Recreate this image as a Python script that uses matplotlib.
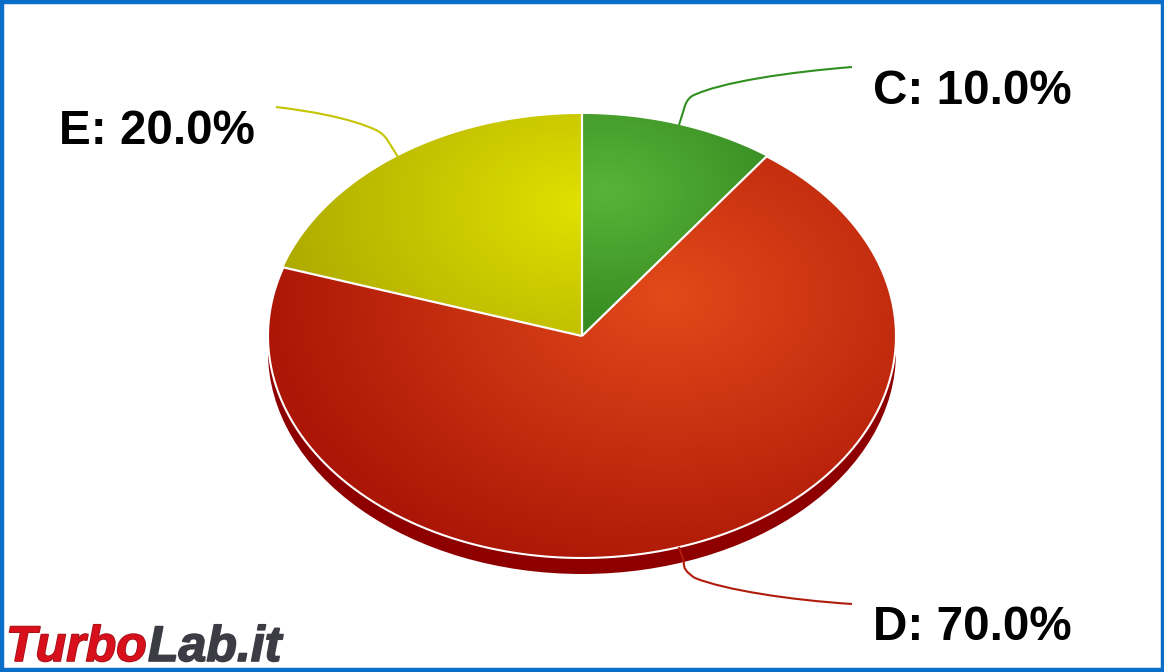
"""Pie chart with a fake 3D look, drawn in pixel coordinates of the original image."""
import matplotlib
matplotlib.use("Agg")
import matplotlib.patheffects as pe
import matplotlib.pyplot as plt
import numpy as np
from matplotlib.colors import LinearSegmentedColormap
from matplotlib.patches import Ellipse, PathPatch, Rectangle
from matplotlib.path import Path

categories = ["C", "D", "E"]
shares = [10.0, 70.0, 20.0]
line_colors = ["#2f8f1f", "#b01c0c", "#c4c400"]
inner_colors = ["#58b438", "#e24a1a", "#e0e000"]
outer_colors = ["#388c22", "#ac1606", "#aaa600"]
gradient_centers = [(605, 190), (665, 295), (578, 205)]
gradient_radius = [190, 400, 330]
label_pos = [(873, 92), (873, 628), (59, 132)]
leaders = [
    [(679, 125), (684, 109), (686, 100), (692, 96), (720, 82), (790, 72), (852, 67)],
    [(679, 547), (684, 562), (682, 570), (695, 578), (725, 590), (790, 600), (852, 604)],
    [(398, 157), (388, 141), (384, 134), (376, 130), (350, 118), (310, 111), (276, 107)],
]

CX, CY = 582, 336
RX, RY = 314, 222
DEPTH = 16

plt.rcParams["font.family"] = ["Liberation Sans", "DejaVu Sans"]


def wedge_path(start, stop):
    # angles in degrees, clockwise from twelve o'clock
    t = np.radians(np.linspace(start, stop, 200))
    xs = CX + RX * np.sin(t)
    ys = CY - RY * np.cos(t)
    verts = [(CX, CY)] + list(zip(xs, ys)) + [(CX, CY)]
    codes = [Path.MOVETO] + [Path.LINETO] * len(xs) + [Path.CLOSEPOLY]
    return Path(verts, codes)


def radial_image(center, radius):
    yy, xx = np.mgrid[0:672, 0:1164]
    dist = np.hypot(xx - center[0], (yy - center[1]) * 1.4) / radius
    return np.clip(dist, 0, 1)


fig = plt.figure(figsize=(11.64, 6.72), dpi=100, facecolor="white")
ax = fig.add_axes([0, 0, 1, 1])
ax.set_xlim(0, 1164)
ax.set_ylim(672, 0)
ax.axis("off")

# side of the disc
ax.add_patch(Ellipse((CX, CY + DEPTH), 2 * RX, 2 * RY, facecolor="#8e0000", edgecolor="none", zorder=1))

start = 0.0
edges = []
for i, share in enumerate(shares):
    stop = start + share * 3.6
    path = wedge_path(start, stop)
    cmap = LinearSegmentedColormap.from_list(categories[i], [inner_colors[i], outer_colors[i]])
    im = ax.imshow(radial_image(gradient_centers[i], gradient_radius[i]), cmap=cmap, vmin=0, vmax=1,
                   extent=(0, 1164, 672, 0), aspect="auto", zorder=2, interpolation="bilinear")
    im.set_clip_path(PathPatch(path, transform=ax.transData))
    edges.append(start)
    start = stop
ax.set_xlim(0, 1164)
ax.set_ylim(672, 0)

# white separators, and the white rim of the big slice
for angle in edges:
    t = np.radians(angle)
    ax.plot([CX, CX + RX * np.sin(t)], [CY, CY - RY * np.cos(t)], color="white", lw=1.6, zorder=3,
            solid_capstyle="butt")
t = np.radians(np.linspace(shares[0] * 3.6, (shares[0] + shares[1]) * 3.6, 300))
ax.plot(CX + RX * np.sin(t), CY - RY * np.cos(t), color="white", lw=1.5, zorder=3)

# leader lines and labels
for name, share, color, pts, pos in zip(categories, shares, line_colors, leaders, label_pos):
    codes = [Path.MOVETO, Path.LINETO, Path.CURVE3, Path.CURVE3, Path.CURVE4, Path.CURVE4, Path.CURVE4]
    ax.add_patch(PathPatch(Path(pts, codes), facecolor="none", edgecolor=color, lw=1.5, zorder=4))
    ax.text(pos[0], pos[1], f"{name}: {share:.1f}%", fontsize=34.3, fontweight="bold", color="black",
            ha="left", va="center", zorder=5)

# watermark, kept a little high so the text box stays inside the picture
ax.text(6, 661, "Turbo", fontsize=36, fontweight="bold", style="italic", color="#d8101c",
        ha="left", va="baseline", zorder=6,
        path_effects=[pe.withStroke(linewidth=1.2, foreground="#a01018")])
ax.text(148, 661, "Lab.it", fontsize=36, fontweight="bold", style="italic", color="#3c3c44",
        ha="left", va="baseline", zorder=6,
        path_effects=[pe.withStroke(linewidth=1.2, foreground="#3c3c44")])

# frame
ax.add_patch(Rectangle((1.5, 1.5), 1161, 668.5, facecolor="none", edgecolor="#0a6ec8", lw=3.2, zorder=7))

fig.savefig("out.png", dpi=100)
